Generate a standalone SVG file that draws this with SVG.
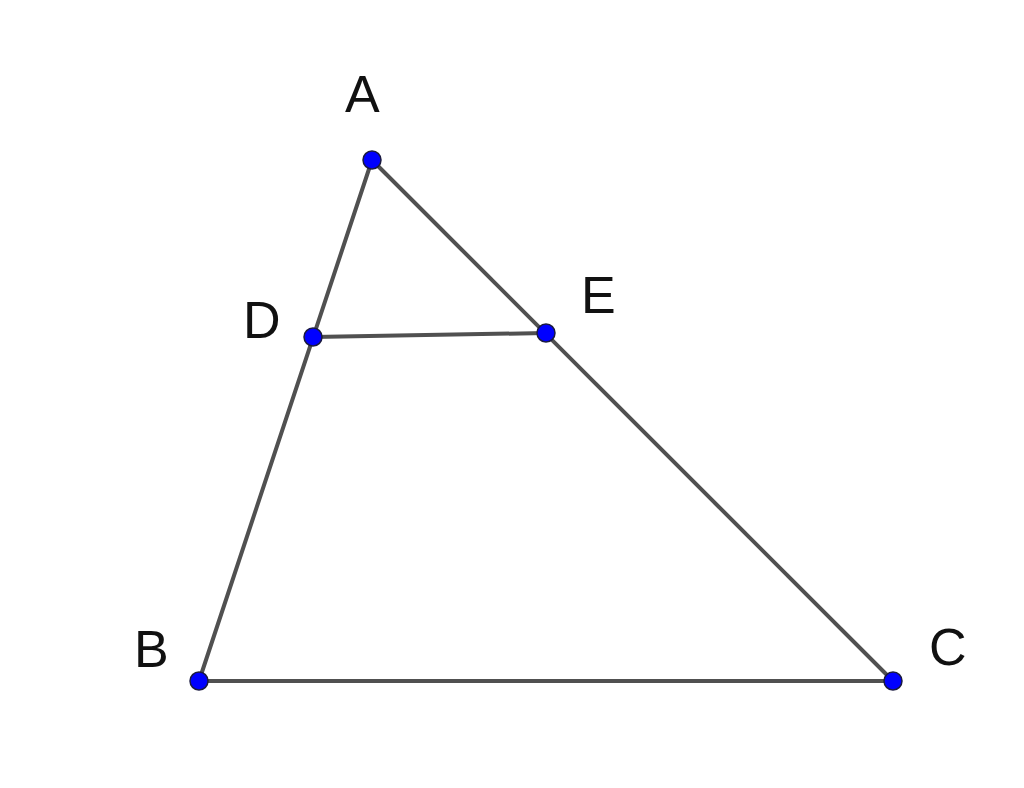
<svg xmlns="http://www.w3.org/2000/svg" width="1024" height="788" viewBox="0 0 1024 788">
<style>
.seg{stroke:#505050;stroke-width:4;fill:none;stroke-linecap:round}
.pt{fill:#0000ff;stroke:#1a1a40;stroke-width:1.5}
.lbl{font-family:"Liberation Sans",Arial,sans-serif;font-size:52px;fill:#111}
</style>
<rect width="1024" height="788" fill="#fff"/>
<g id="connectors">
<line class="seg" x1="372" y1="160" x2="199" y2="681"/>
<line class="seg" x1="372" y1="160" x2="893" y2="681"/>
<line class="seg" x1="199" y1="681" x2="893" y2="681"/>
<line class="seg" x1="313" y1="337" x2="546" y2="333"/>
</g>
<g id="A"><circle class="pt" cx="372" cy="160" r="9"/><text class="lbl" x="345" y="112">A</text></g>
<g id="D"><circle class="pt" cx="313" cy="337" r="9"/><text class="lbl" x="243" y="338">D</text></g>
<g id="E"><circle class="pt" cx="546" cy="333" r="9"/><text class="lbl" x="581" y="313">E</text></g>
<g id="B"><circle class="pt" cx="199" cy="681" r="9"/><text class="lbl" x="134" y="667">B</text></g>
<g id="C"><circle class="pt" cx="893" cy="681" r="9"/><text class="lbl" x="929" y="665">C</text></g>
</svg>
